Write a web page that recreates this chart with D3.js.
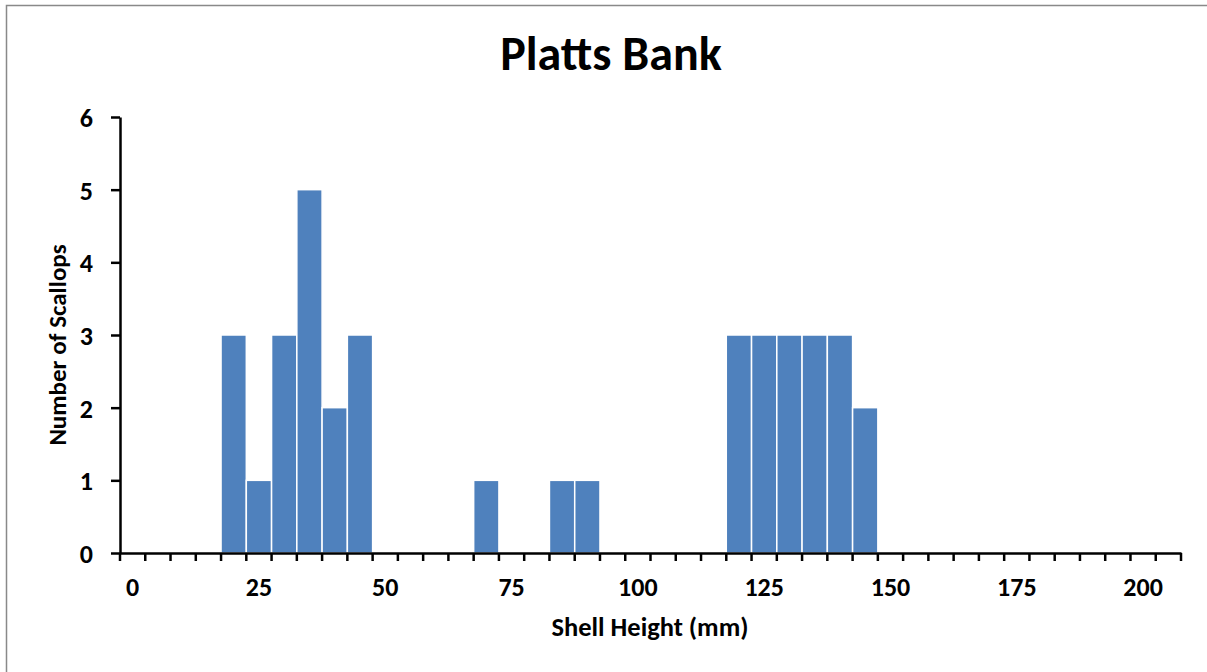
<!DOCTYPE html>
<html>
<head>
<meta charset="utf-8">
<script src="https://cdn.jsdelivr.net/npm/d3@7"></script>
<style>
  body { margin: 0; background: #fff; }
  text { font-family: Carlito, Lato, "Liberation Sans", sans-serif; font-weight: bold; fill: #000; }
</style>
</head>
<body>
<svg id="chart" width="1207" height="672"></svg>
<script>
// shell height bins (mm), 5 mm wide
const categories = [0, 5, 10, 15, 20, 25, 30, 35, 40, 45, 50, 55, 60, 65, 70, 75, 80, 85, 90, 95,
    100, 105, 110, 115, 120, 125, 130, 135, 140, 145, 150, 155, 160, 165, 170, 175, 180, 185, 190, 195,
    200, 205];
const counts = [0, 0, 0, 0, 3, 1, 3, 5, 2, 3, 0, 0, 0, 0, 1, 0, 0, 1, 1, 0,
    0, 0, 0, 0, 3, 3, 3, 3, 3, 2, 0, 0, 0, 0, 0, 0, 0, 0, 0, 0,
    0, 0];
const xTickLabels = [0, 25, 50, 75, 100, 125, 150, 175, 200];
const yTicks = [0, 1, 2, 3, 4, 5, 6];

const svg = d3.select("#chart");

// outer chart border
svg.append("rect")
    .attr("x", 6.5).attr("y", 5.5)
    .attr("width", 1210).attr("height", 680)
    .attr("fill", "none")
    .attr("stroke", "#898989")
    .attr("stroke-width", 1.5);

const plotLeft = 120, plotRight = 1181, plotTop = 117, plotBottom = 553;

const x = d3.scaleBand()
    .domain(categories)
    .range([plotLeft, plotRight])
    .padding(0);

const y = d3.scaleLinear()
    .domain([0, 6])
    .range([plotBottom, plotTop]);

// bars
svg.append("g")
    .selectAll("rect")
    .data(categories.map((c, i) => ({ cat: c, value: counts[i] })).filter(d => d.value > 0))
    .join("rect")
    .attr("x", d => x(d.cat))
    .attr("y", d => y(d.value))
    .attr("width", x.bandwidth())
    .attr("height", d => y(0) - y(d.value))
    .attr("fill", "#4F81BD")
    .attr("stroke", "#fff")
    .attr("stroke-width", 1.5);

// x axis: labels under every 5th bin, ticks at bin edges
const xAxis = svg.append("g")
    .attr("transform", `translate(0,${plotBottom})`)
    .call(d3.axisBottom(x).tickValues(xTickLabels).tickSize(0).tickSizeOuter(0));
xAxis.select(".domain").attr("stroke", "#000").attr("stroke-width", 2.5);
xAxis.selectAll("text")
    .attr("font-size", 26)
    .attr("y", 43)
    .attr("dy", 0);

const edges = categories.map(c => x(c)).concat([plotRight]);
xAxis.append("g")
    .selectAll("line")
    .data(edges)
    .join("line")
    .attr("x1", d => d).attr("x2", d => d)
    .attr("y1", 0).attr("y2", 8)
    .attr("stroke", "#000")
    .attr("stroke-width", 2.5);

// y axis
const yAxis = svg.append("g")
    .attr("transform", `translate(${plotLeft},0)`)
    .call(d3.axisLeft(y).tickValues(yTicks).tickFormat(d3.format("d")).tickSize(9).tickSizeOuter(0));
yAxis.select(".domain").attr("stroke", "#000").attr("stroke-width", 2.5);
yAxis.selectAll(".tick line").attr("stroke", "#000").attr("stroke-width", 2.5);
yAxis.selectAll("text")
    .attr("font-size", 26)
    .attr("x", -27)
    .attr("dy", "0.36em");

// titles
svg.append("text")
    .attr("x", 611).attr("y", 70)
    .attr("text-anchor", "middle")
    .attr("font-size", 48)
    .text("Platts Bank");

svg.append("text")
    .attr("x", 650).attr("y", 636)
    .attr("text-anchor", "middle")
    .attr("font-size", 26.5)
    .text("Shell Height (mm)");

svg.append("text")
    .attr("transform", "translate(66,345) rotate(-90)")
    .attr("text-anchor", "middle")
    .attr("font-size", 25)
    .text("Number of Scallops");
</script>
</body>
</html>
